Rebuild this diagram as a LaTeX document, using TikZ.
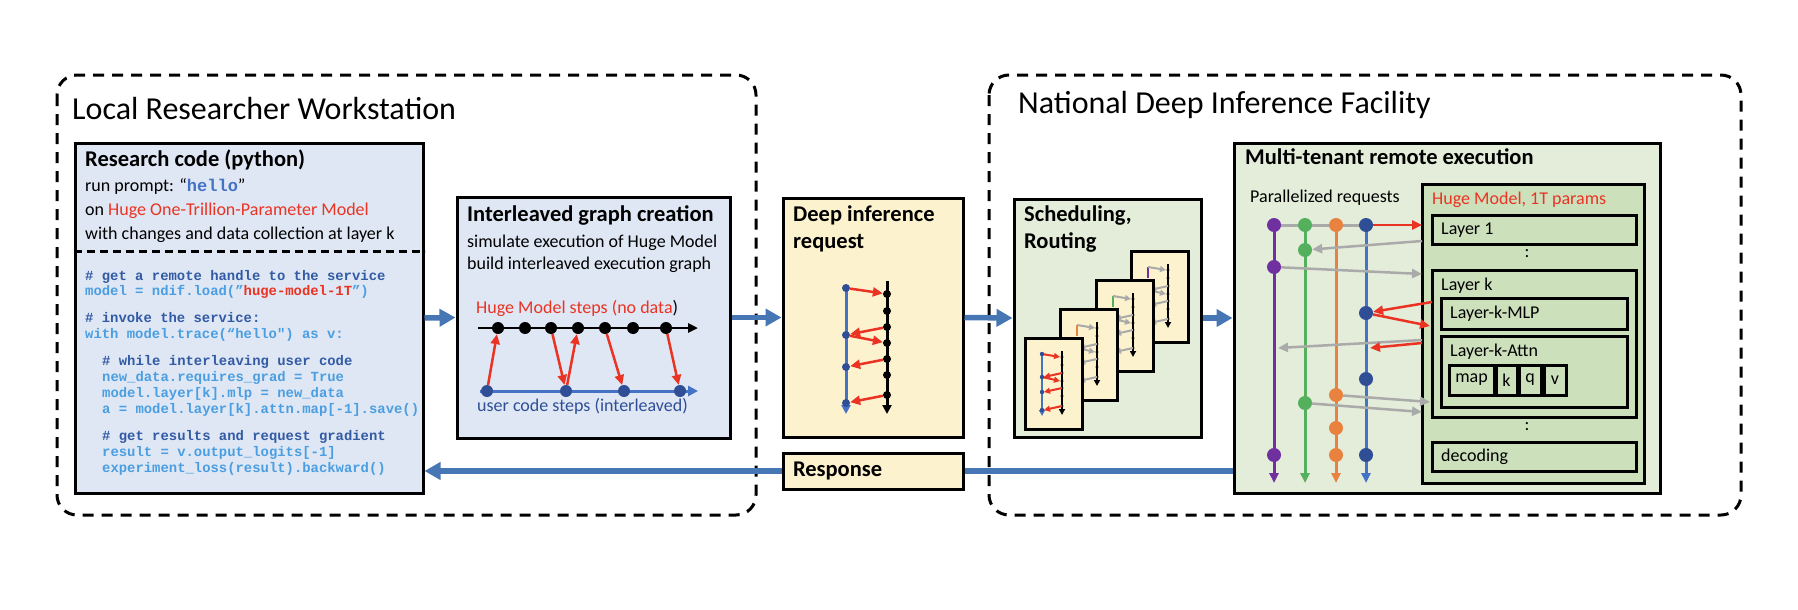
\documentclass[tikz,border=0pt]{standalone}
\usepackage{fontspec}
\setmainfont{Carlito}
\setmonofont{Liberation Mono}
\usepackage{xcolor}
\usetikzlibrary{arrows.meta}

\definecolor{paneblue}{RGB}{222,231,243}
\definecolor{paneyellow}{RGB}{253,242,206}
\definecolor{panegreen}{RGB}{227,237,218}
\definecolor{modelgreen}{RGB}{205,224,188}
\definecolor{flowblue}{RGB}{70,118,180}
\definecolor{stepred}{RGB}{234,51,35}
\definecolor{userblue}{RGB}{68,114,196}
\definecolor{userdot}{RGB}{47,78,150}
\definecolor{codedark}{RGB}{50,90,165}
\definecolor{codelight}{RGB}{75,158,225}
\definecolor{reqpurple}{RGB}{112,48,160}
\definecolor{reqgreen}{RGB}{84,176,92}
\definecolor{reqorange}{RGB}{232,130,62}
\definecolor{reqgray}{RGB}{170,170,170}

% one request card of the scheduler: name, x, y, user line style, arrow colour, user line end
\newcommand{\schedcard}[6]{%
  \begin{scope}[shift={(#2,#3)}]
    \node[card] (#1) at (28.5,45.5) {};
    \draw[line width=2pt, #4] (17,16) -- (17,#6);
    \draw[line width=2pt, -{Triangle[length=6pt,width=6pt]}] (37,13) -- (37,77);
    \foreach \y in {19,27,35,43,50,58,68} \fill (37,\y) circle (1.6);
    \draw[miniflow, #5] (17,16) -- (35,19);
    \draw[miniflow, #5] (37,35) -- (19,39);
    \draw[miniflow, #5] (17,39) -- (35,43);
    \draw[miniflow, #5] (37,50) -- (19,54);
    \draw[miniflow, #5] (37,68) -- (19,72);
  \end{scope}}

\begin{document}
\begin{tikzpicture}[
    x=1pt, y=-1pt,
    region/.style={draw, line width=3pt, dash pattern=on 11pt off 8pt, rounded corners=20pt},
    panel/.style={draw, line width=3pt, inner sep=0pt},
    card/.style={panel, fill=paneyellow, minimum width=57pt, minimum height=91pt},
    titletext/.style={font=\fontsize{32}{38}\selectfont},
    headtext/.style={font=\fontsize{22.5}{27}\selectfont\bfseries},
    bodytext/.style={font=\fontsize{18}{22}\selectfont},
    title/.style={titletext, anchor=mid west, inner sep=0pt},
    head/.style={headtext, anchor=mid west, inner sep=0pt, yshift=-4pt},
    body/.style={bodytext, anchor=mid west, inner sep=0pt, yshift=-3pt},
    code/.style={anchor=mid west, inner sep=0pt, font=\fontsize{13.9}{16}\selectfont\ttfamily\bfseries},
    flow/.style={line width=5.5pt, flowblue, -{Triangle[length=16pt,width=17pt]}},
    stepflow/.style={line width=2.5pt, stepred, -{Triangle[length=10pt,width=9pt]}},
    reqflow/.style={line width=2.5pt, reqgray, -{Triangle[length=10pt,width=9pt]}},
    miniflow/.style={line width=2pt, -{Triangle[length=6pt,width=6pt]}},
    lane/.style={line width=3pt, -{Triangle[length=10pt,width=9pt]}},
    kdot/.style={circle, fill=black, inner sep=0pt, minimum size=12pt},
    udot/.style={circle, fill=userdot, inner sep=0pt, minimum size=12pt},
    qdot/.style={circle, inner sep=0pt, minimum size=8pt},
    rdot/.style={circle, inner sep=0pt, minimum size=14pt}
]
    \useasboundingbox (0,0) rectangle (1798,610);

    % Regions
    \draw[region] (57,75) rectangle (756,515);
    \draw[region] (989,75) rectangle (1741,515);
    \node[title] (local) at (72,117) {Local Researcher Workstation};
    \node[title] (ndif) at (1018,111) {National Deep Inference Facility};

    % Research code
    \node[panel, fill=paneblue, minimum width=348pt, minimum height=350pt] (research) at (249,318) {};
    \node[head] (rc-title) at (85,160) {Research code (python)};
    \node[body] (rc-prompt) at (85,186) {run prompt: “\textcolor{userblue}{\fontsize{17}{20}\selectfont\ttfamily\bfseries hello}”};
    \node[body] (rc-model) at (85,210) {on \textcolor{stepred}{Huge One-Trillion-Parameter Model}};
    \node[body] (rc-scope) at (85,234) {with changes and data collection at layer k};
    \coordinate (divider) at (0,251);
    \draw[line width=3pt, dash pattern=on 8pt off 5pt] (research.west |- divider) -- (research.east |- divider);
    \node[code, codedark] (c1) at (85,278) {\# get a remote handle to the service};
    \node[code, codelight] (c2) at (85,293) {model = ndif.load(”\textcolor{stepred}{huge-model-1T}”)};
    \node[code, codedark] (c3) at (85,320) {\# invoke the service:};
    \node[code, codelight] (c4) at (85,336) {with model.trace(“hello") as v:};
    \node[code, codedark] (c5) at (102,363) {\# while interleaving user code};
    \node[code, codelight] (c6) at (102,379) {new\_data.requires\_grad = True};
    \node[code, codelight] (c7) at (102,395) {model.layer[k].mlp = new\_data};
    \node[code, codelight] (c8) at (102,411) {a = model.layer[k].attn.map[-1].save()};
    \node[code, codedark] (c9) at (102,438) {\# get results and request gradient};
    \node[code, codelight] (c10) at (102,454) {result = v.output\_logits[-1]};
    \node[code, codelight] (c11) at (102,470) {experiment\_loss(result).backward()};

    % Interleaved graph creation
    \node[panel, fill=paneblue, minimum width=273pt, minimum height=241pt] (inter) at (593.5,317.5) {};
    \node[head] (ig-title) at (467,215) {Interleaved graph creation};
    \node[body] (ig-line1) at (467,242) {simulate execution of Huge Model};
    \node[body] (ig-line2) at (467,264) {build interleaved execution graph};
    \node[body] (ig-model) at (476,308) {\textcolor{stepred}{Huge Model steps (no data}{)}};
    \node[body, text=userdot] (ig-user) at (477,406) {user code steps (interleaved)};
    \coordinate (ig-mstart) at (478,328);
    \coordinate (ig-mend) at (698,328);
    \coordinate (ig-ustart) at (480,391);
    \coordinate (ig-uend) at (698,391);
    \draw[line width=2.5pt, -{Triangle[length=10pt,width=9pt]}] (ig-mstart) -- (ig-mend);
    \draw[line width=3pt, userblue, -{Triangle[length=10pt,width=10pt]}] (ig-ustart) -- (ig-uend);
    \foreach \x [count=\i] in {498,525,551,578,605,633,666}
        \node[kdot] (m\i) at (\x,328) {};
    \foreach \x [count=\i] in {487,566,624,680}
        \node[udot] (u\i) at (\x,391) {};
    \draw[stepflow] (u1) -- (m1);
    \draw[stepflow] (m3) -- (u2);
    \draw[stepflow] (u2) -- (m4);
    \draw[stepflow] (m5) -- (u3);
    \draw[stepflow] (m7) -- (u4);

    % Deep inference request
    \node[panel, fill=paneyellow, minimum width=180pt, minimum height=239pt] (deep) at (873,317.5) {};
    \node[head] (dr-title1) at (793,215) {Deep inference};
    \node[head] (dr-title2) at (793,242) {request};
    \coordinate (dq-ustart) at (846,286);
    \coordinate (dq-uend) at (846,414);
    \coordinate (dq-mstart) at (887,281);
    \coordinate (dq-mend) at (887,414);
    \draw[line width=3pt, userblue, -{Triangle[length=9pt,width=9pt]}] (dq-ustart) -- (dq-uend);
    \draw[line width=3pt, -{Triangle[length=9pt,width=9pt]}] (dq-mstart) -- (dq-mend);
    \foreach \y [count=\i] in {294,311,327,343,359,375,395}
        \node[qdot, fill=black] (qm\i) at (887,\y) {};
    \foreach \y [count=\i] in {288,335,367,403}
        \node[qdot, fill=userdot] (qu\i) at (846,\y) {};
    \draw[stepflow] (qu1) -- (qm1);
    \draw[stepflow] (qm3) -- (qu2);
    \draw[stepflow] (qu2) -- (qm4);
    \draw[stepflow] (qm5) -- (qu3);
    \draw[stepflow] (qm7) -- (qu4);

    % Scheduling, Routing
    \node[panel, fill=panegreen, minimum width=187pt, minimum height=238pt] (sched) at (1107.5,318) {};
    \node[head] (sr-title1) at (1024,215) {Scheduling,};
    \node[head] (sr-title2) at (1024,242) {Routing};
    \schedcard{card4}{1131}{251}{reqpurple}{reqgray}{27}
    \schedcard{card3}{1096}{280}{reqgreen}{reqgray}{27}
    \schedcard{card2}{1060}{309}{reqorange}{reqgray}{27}
    \schedcard{card1}{1025}{338}{userblue, -{Triangle[length=6pt,width=6pt]}}{stepred}{78}
    \begin{scope}[shift={(1025,338)}]
        \foreach \y in {16,39,54,72} \fill[userdot] (17,\y) circle (2.2);
    \end{scope}

    % Multi-tenant remote execution
    \node[panel, fill=panegreen, minimum width=426pt, minimum height=350pt] (multi) at (1447,318) {};
    \node[head] (mt-title) at (1245,158) {Multi-tenant remote execution};
    \node[body] (mt-par) at (1250,197) {Parallelized requests};

    % Huge model
    \node[panel, fill=modelgreen, minimum width=222pt, minimum height=299pt] (huge) at (1533,333.5) {};
    \node[body, text=stepred] (hm-title) at (1432,199) {Huge Model, 1T params};
    \node[panel, fill=modelgreen, minimum width=204pt, minimum height=29pt] (layer1) at (1534,229.5) {};
    \node[body] (layer1-text) at (1441,229.5) {Layer 1};
    \node[body, anchor=center] (gap1) at (1527,251) {:};
    \node[panel, fill=modelgreen, minimum width=204pt, minimum height=147pt] (layerk) at (1534,343.5) {};
    \node[body] (layerk-text) at (1441,285) {Layer k};
    \node[panel, fill=modelgreen, minimum width=186pt, minimum height=31pt] (mlp) at (1534,313.5) {};
    \node[body] (mlp-text) at (1450,313.5) {Layer-k-MLP};
    \node[panel, fill=modelgreen, minimum width=186pt, minimum height=71pt] (attn) at (1534,371.5) {};
    \node[body] (attn-text) at (1450,351) {Layer-k-Attn};
    \node[panel, fill=modelgreen, minimum width=45pt, minimum height=30pt, bodytext] (map) at (1471.5,380) {map};
    \node[panel, fill=modelgreen, minimum width=21pt, minimum height=30pt, bodytext] (kk) at (1506.5,380) {k};
    \node[panel, fill=modelgreen, minimum width=22pt, minimum height=30pt, bodytext] (qq) at (1530,380) {q};
    \node[panel, fill=modelgreen, minimum width=22pt, minimum height=30pt, bodytext] (vv) at (1555,380) {v};
    \node[body, anchor=center] (gap2) at (1527,424) {:};
    \node[panel, fill=modelgreen, minimum width=204pt, minimum height=29pt] (decoding) at (1534,456.5) {};
    \node[body] (decoding-text) at (1441,456.5) {decoding};

    % Request lanes
    \foreach \n/\x/\c in {p/1274/reqpurple, g/1305/reqgreen, o/1336/reqorange, b/1366/userblue} {
        \coordinate (\n-top) at (\x,225);
        \coordinate (\n-end) at (\x,483);
        \draw[lane, \c] (\n-top) -- (\n-end);
    }
    \draw[line width=3pt, reqgray] (p-top) -- (b-top);
    \foreach \y [count=\i] in {225,267,455}
        \node[rdot, fill=reqpurple] (p\i) at (1274,\y) {};
    \foreach \y [count=\i] in {225,250,403}
        \node[rdot, fill=reqgreen] (g\i) at (1305,\y) {};
    \foreach \y [count=\i] in {225,395,428,455}
        \node[rdot, fill=reqorange] (o\i) at (1336,\y) {};
    \foreach \y [count=\i] in {225,313,379,455}
        \node[rdot, fill=userdot] (b\i) at (1366,\y) {};

    % Lane traffic
    \coordinate (h-in1) at (1422,225);
    \coordinate (h-out1) at (1422,241);
    \coordinate (h-in2) at (1422,274);
    \coordinate (k-out1) at (1432,302);
    \coordinate (k-in1) at (1430,326);
    \coordinate (h-out2) at (1422,340);
    \coordinate (p-hit) at (1278,348);
    \coordinate (h-out3) at (1422,343);
    \coordinate (b-hit) at (1370,348);
    \coordinate (k-in2) at (1430,402);
    \coordinate (h-in3) at (1422,412);
    \draw[stepflow] (b1) -- (h-in1);
    \draw[reqflow] (h-out1) -- (g2);
    \draw[reqflow] (p2) -- (h-in2);
    \draw[stepflow] (k-out1) -- (b2);
    \draw[stepflow] (b2) -- (k-in1);
    \draw[reqflow] (h-out2) -- (p-hit);
    \draw[stepflow] (h-out3) -- (b-hit);
    \draw[reqflow] (o2) -- (k-in2);
    \draw[reqflow] (g3) -- (h-in3);

    % Response
    \node[panel, fill=paneyellow, minimum width=180pt, minimum height=36pt, text width=160pt, headtext] (resp) at (873,471) {Response};

    % Arrows
    \draw[flow] (research.east) -- (inter.west);
    \draw[flow] (inter.east) -- (deep.west);
    \draw[flow] (deep.east) -- (sched.west);
    \draw[flow] (sched.east) -- (multi.west);
    \draw[flow, -] (multi.west |- resp.east) -- (resp.east);
    \draw[flow] (resp.west) -- (research.east |- resp.west);
\end{tikzpicture}
\end{document}
